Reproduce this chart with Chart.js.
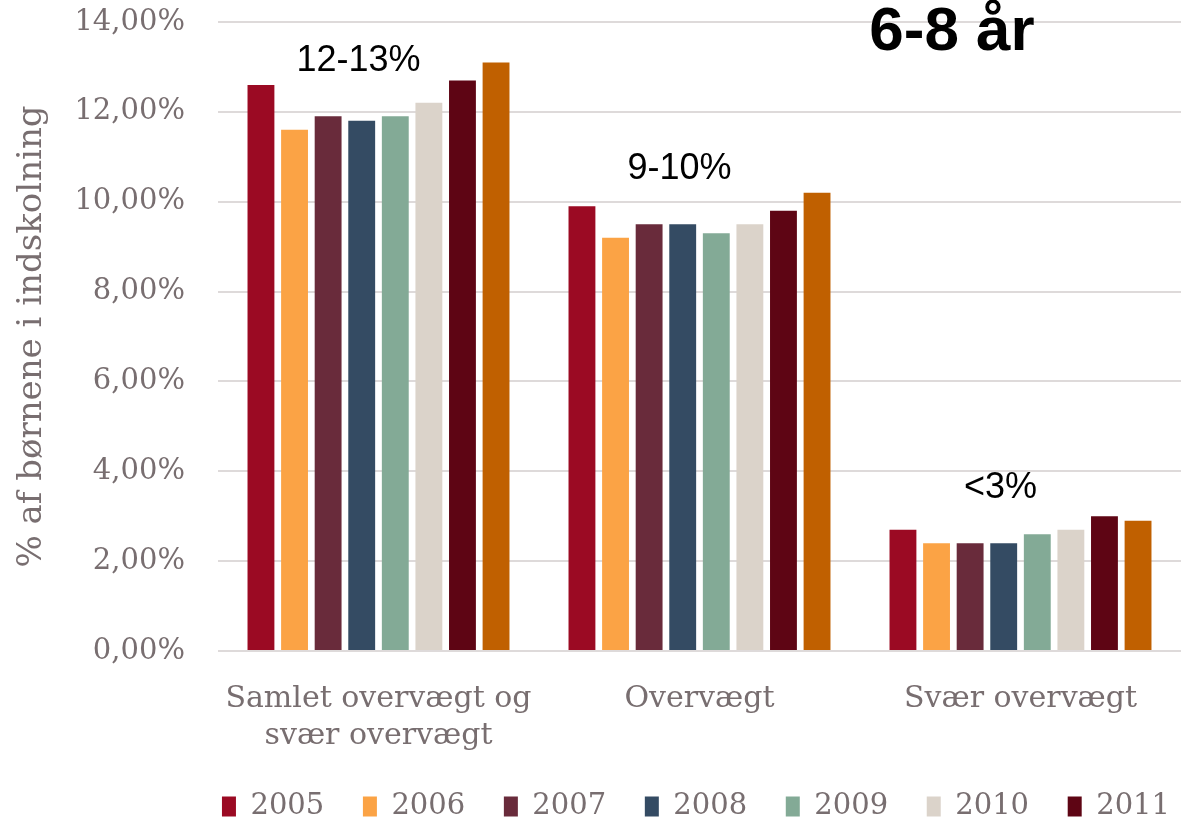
<!DOCTYPE html>
<html lang="da">
<head>
<meta charset="utf-8">
<title>Overvægt 6-8 år</title>
<script src="https://cdn.jsdelivr.net/npm/chart.js@4.4.1/dist/chart.umd.min.js"></script>
<style>
  html,body{margin:0;padding:0;background:#fff;}
  #wrap{width:1181px;height:824px;position:relative;}
</style>
</head>
<body>
<div id="wrap"><canvas id="chart"></canvas></div>
<script>
// ---------- data ----------
const categories=[['Samlet overvægt og','svær overvægt'],'Overvægt','Svær overvægt'];
const years=['2005','2006','2007','2008','2009','2010','2011','2012'];
const v2005=[12.6,9.9,2.7];
const v2006=[11.6,9.2,2.4];
const v2007=[11.9,9.5,2.4];
const v2008=[11.8,9.5,2.4];
const v2009=[11.9,9.3,2.6];
const v2010=[12.2,9.5,2.7];
const v2011=[12.7,9.8,3.0];
const v2012=[13.1,10.2,2.9];
const yTicks=[0,2,4,6,8,10,12,14];
const notes=['12-13%','9-10%','<3%'];
const noteY=[13.12,10.72,3.62];
const chartTitle='6-8 år';

const seriesValues=[v2005,v2006,v2007,v2008,v2009,v2010,v2011,v2012];
const COLORS=['#9b0a23','#fba345','#692b3b','#344b63','#83aa96','#dbd3ca','#5e0514','#c06000'];
const GREY='#786e70';
const SERIF='"DejaVu Serif", serif';

const fmtPct=v=>v.toFixed(2).replace('.',',')+'%';

// legend: 2012 has no entry; extra spaces widen the gap between entries
function legendLabels(chart){
  const items=Chart.defaults.plugins.legend.labels.generateLabels(chart).filter(it=>it.text!=='2012');
  return items.map((it,i)=>Object.assign(it,{text:i<items.length-1?it.text+'   ':it.text}));
}

// range notes above each group + the big heading
const notesPlugin={
  id:'notes',
  afterDatasetsDraw(chart){
    const {ctx,scales:{x,y}}=chart;
    ctx.save();
    ctx.fillStyle='#000';
    ctx.textAlign='center';ctx.textBaseline='middle';
    ctx.font='36px "Liberation Sans", Arial, sans-serif';
    notes.forEach((t,i)=>ctx.fillText(t,x.getPixelForValue(i)-20,y.getPixelForValue(noteY[i])));
    ctx.font='bold 62px "Liberation Sans", Arial, sans-serif';
    ctx.fillText(chartTitle,952,33);
    ctx.restore();
  }
};

new Chart(document.getElementById('chart'),{
  type:'bar',
  data:{
    labels:categories,
    datasets:years.map((yr,i)=>({
      label:yr,data:seriesValues[i],backgroundColor:COLORS[i],borderWidth:0,
      categoryPercentage:0.837,barPercentage:0.8
    }))
  },
  options:{
    responsive:true,maintainAspectRatio:false,animation:false,
    layout:{padding:{top:22,right:0,left:0,bottom:-7}},
    plugins:{
      legend:{
        position:'bottom',align:'end',
        labels:{
          generateLabels:legendLabels,
          color:GREY,font:{family:SERIF,size:29},
          boxWidth:14,boxHeight:20,padding:11
        }
      },
      tooltip:{callbacks:{label:c=>c.dataset.label+': '+fmtPct(c.raw)}}
    },
    scales:{
      x:{
        grid:{display:false},border:{display:false},
        ticks:{color:GREY,font:{family:SERIF,size:30,lineHeight:1.25},padding:21,maxRotation:0,autoSkip:false},
        afterFit:s=>{s.height=130;}
      },
      y:{
        min:0,max:14,
        afterBuildTicks:s=>{s.ticks=yTicks.map(v=>({value:v}));},
        // invisible tick marks keep the labels clear of the plot
        grid:{color:'#dedada',lineWidth:2,drawTicks:true,tickLength:33,tickColor:'rgba(0,0,0,0)'},
        border:{display:false},
        ticks:{color:GREY,font:{family:SERIF,size:29},padding:0,callback:v=>fmtPct(v)},
        title:{display:true,text:'% af børnene i indskolning',color:GREY,font:{family:SERIF,size:34},padding:{top:12,bottom:0}},
        afterFit:s=>{s.width=218;}
      }
    }
  },
  plugins:[notesPlugin]
});
</script>
</body>
</html>
